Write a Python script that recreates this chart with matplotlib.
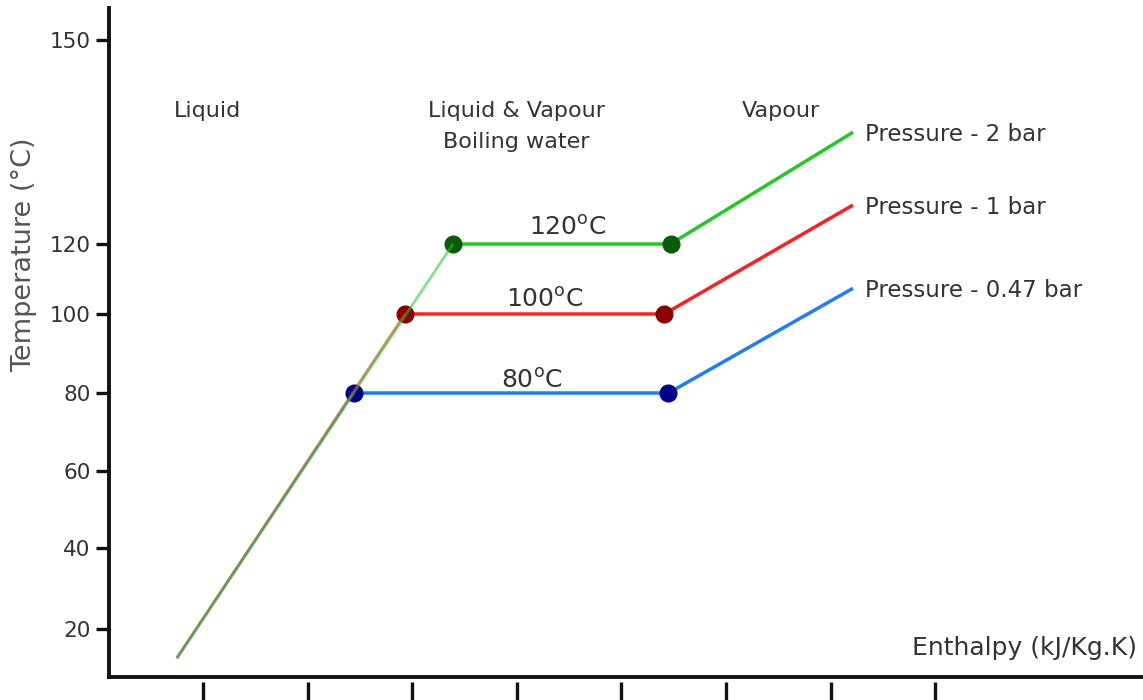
import matplotlib
matplotlib.use('Agg')
import matplotlib.pyplot as plt
import numpy as np

# Values (enthalpy in tick units, temperature in degC)
h_start = 0.75
t_start = 12.8

pressure_labels = ['Pressure - 0.47 bar', 'Pressure - 1 bar', 'Pressure - 2 bar']
temp_labels = ['80', '100', '120']
t_boil = [80, 100, 120]
h_liquid_end = [2.44, 2.93, 3.39]
h_vapour_start = [5.45, 5.41, 5.47]
h_vapour_end = [7.20, 7.20, 7.20]
t_vapour_end = [107.1, 125.6, 136.3]

x_ticks = [1, 2, 3, 4, 5, 6, 7, 8]
y_ticks = [20, 40, 60, 80, 100, 120, 150]

# the temperature axis of the sketch is not linear: height (px) of each tick
t_anchor = [0] + y_ticks + [200]
p_anchor = [-33, 48, 129, 206, 284, 363, 433, 637, 977]


def forward(t):
    return np.interp(t, t_anchor, p_anchor)


def inverse(p):
    return np.interp(p, p_anchor, t_anchor)


line_colors = ['#1e7cff', '#ff1e1e', '#1ecb1e']
dot_colors = ['#00008f', '#8b0000', '#0a5c0a']
text_color = '#333333'

W, H = 1143, 700
fig = plt.figure(figsize=(W / 100, H / 100), dpi=100)
ax = fig.add_axes([108.7 / W, 23 / H, 1 - 108.7 / W, 669 / H])
ax.set_yscale('function', functions=(forward, inverse))
ax.set_xlim(0.0985, 9.987)
ax.set_ylim(inverse(0), inverse(669))

for i in range(3):
    # liquid part (thin, transparent, drawn over the dots)
    ax.plot([h_start, h_liquid_end[i]], [t_start, t_boil[i]],
            color=line_colors[i], lw=2.0, alpha=0.55, zorder=5,
            solid_capstyle='butt')
    # boiling + vapour part
    ax.plot([h_liquid_end[i], h_vapour_start[i], h_vapour_end[i]],
            [t_boil[i], t_boil[i], t_vapour_end[i]],
            color=line_colors[i], lw=2.5, zorder=3)
    ax.plot([h_liquid_end[i], h_vapour_start[i]], [t_boil[i], t_boil[i]],
            'o', color=dot_colors[i], ms=12, zorder=4)
    ax.annotate(pressure_labels[i], (h_vapour_end[i], t_vapour_end[i]),
                xytext=(9.4, -5.8), textcoords='offset points',
                ha='left', va='baseline', fontsize=16.5, color=text_color)

# temperature labels above the boiling lines
temp_pos = [(532, 388), (545, 307), (568, 235)]
for lab, (px, py) in zip(temp_labels, temp_pos):
    fig.text(px / W, 1 - py / H, lab + r'$^{\rm o}$C', ha='center',
             va='baseline', fontsize=18, color=text_color)

# region names
fig.text(208 / W, 1 - 117 / H, 'Liquid', ha='center', va='baseline',
         fontsize=16, color=text_color)
fig.text(516 / W, 1 - 117 / H, 'Liquid & Vapour', ha='center',
         va='baseline', fontsize=16, color=text_color)
fig.text(516 / W, 1 - 148 / H, 'Boiling water', ha='center',
         va='baseline', fontsize=16, color=text_color)
fig.text(781 / W, 1 - 117 / H, 'Vapour', ha='center', va='baseline',
         fontsize=16, color=text_color)

# axis titles
fig.text(1137 / W, 1 - 655 / H, 'Enthalpy (kJ/Kg.K)', ha='right',
         va='baseline', fontsize=18, color=text_color)
fig.text(24 / W, 1 - 255 / H, 'Temperature (°C)', rotation=90,
         ha='center', va='center', fontsize=19.5, color='#555555')

# axes styling
for s in ['top', 'right']:
    ax.spines[s].set_visible(False)
for s in ['left', 'bottom']:
    ax.spines[s].set_linewidth(2.8)
    ax.spines[s].set_color('#111111')

ax.set_yticks(y_ticks)
ax.set_yticklabels([str(v) for v in y_ticks])
ax.tick_params(axis='y', direction='out', length=9.5, width=2.4,
               pad=3.5, labelsize=15.5, labelcolor=text_color,
               color='#111111')
ax.yaxis.set_minor_locator(matplotlib.ticker.NullLocator())
ax.set_xticks([])

# x ticks are detached, just below the axis line
secax = ax.secondary_xaxis(-0.0075)
secax.set_xticks(x_ticks)
secax.set_xticklabels([])
secax.spines['bottom'].set_visible(False)
secax.tick_params(direction='out', length=14, width=2.4, color='#111111')

fig.savefig('out.png', dpi=100)
